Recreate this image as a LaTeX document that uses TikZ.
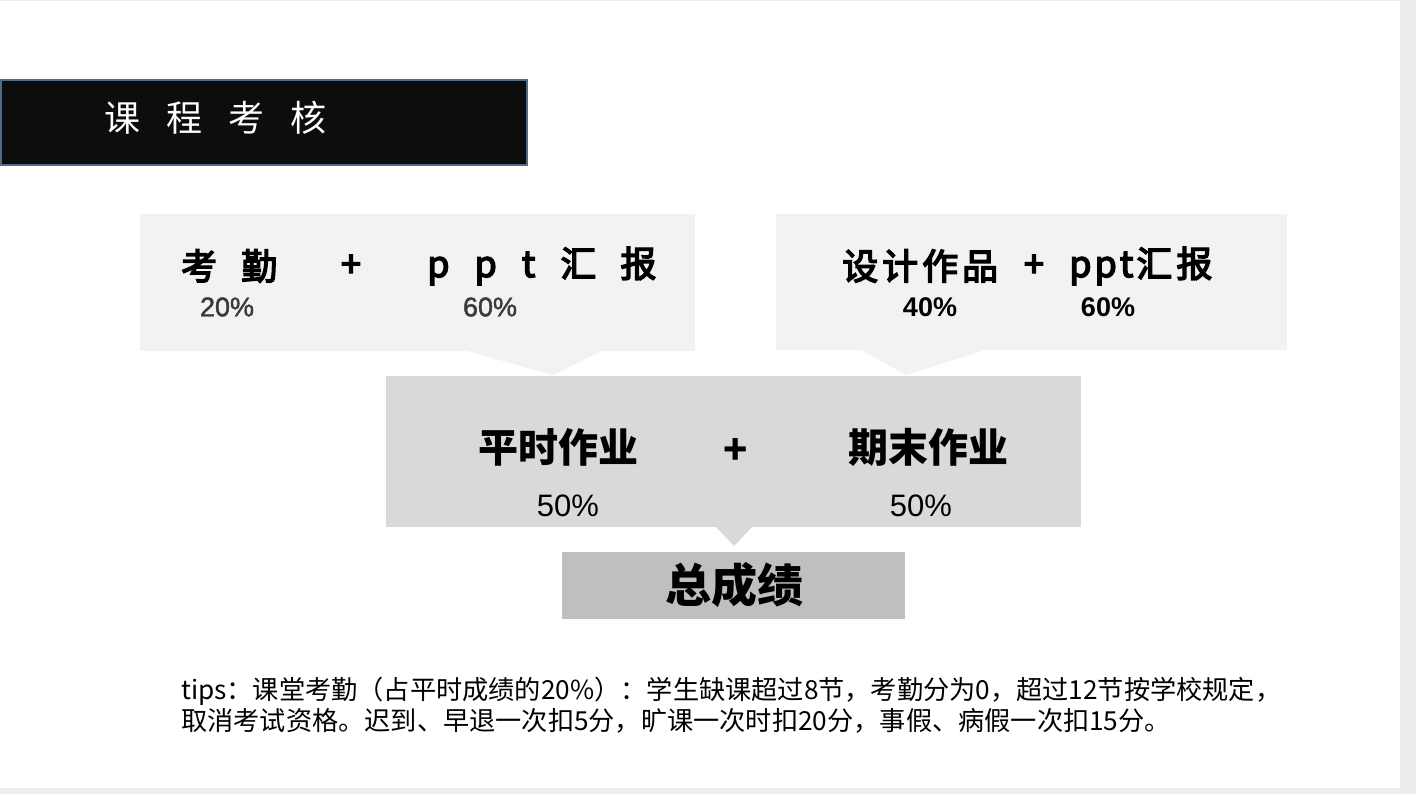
\documentclass[tikz,border=0pt]{standalone}
\usepackage{fontspec}
\setmainfont{Noto Sans CJK SC}
\newfontfamily\semib{Noto Sans CJK SC}[FakeBold=4]
\newfontfamily\lat{Liberation Sans}
\newfontfamily\latmed{Liberation Sans}[FakeBold=1.5]
\definecolor{outbg}{HTML}{EDEDF0}
\definecolor{titlebk}{HTML}{0D0D0D}
\definecolor{titleline}{HTML}{4F6C8C}
\definecolor{boxA}{HTML}{F2F2F2}
\definecolor{boxB}{HTML}{D9D9D9}
\definecolor{boxC}{HTML}{BFBFBF}
\definecolor{pctgray}{HTML}{3A3A3A}
\tikzset{
  panel/.style={rectangle, inner sep=0pt, anchor=north west},
  toptxt/.style={inner sep=0pt, font=\fontsize{36}{40}\selectfont\semib},
  midtxt/.style={inner sep=0pt, font=\fontsize{40}{44}\selectfont\bfseries},
  pctA/.style={inner sep=0pt, text=pctgray, font=\fontsize{27}{30}\selectfont\latmed},
  pctB/.style={inner sep=0pt, font=\fontsize{27}{30}\selectfont\lat\bfseries},
  pctC/.style={inner sep=0pt, font=\fontsize{31}{34}\selectfont\lat},
  tiptxt/.style={inner sep=0pt, anchor=west, font=\fontsize{26.2}{30}\selectfont},
}
\begin{document}
\begin{tikzpicture}[x=1pt,y=-1pt]
\useasboundingbox (0,0) rectangle (1416,794);
\fill[outbg] (0,0) rectangle (1416,794);
\fill[white] (0,1) rectangle (1400,788);

% title bar
\node[panel, fill=titlebk, draw=titleline, line width=2pt, minimum width=526pt, minimum height=85pt] (title) at (0,79) {};
\node[inner sep=0pt, anchor=west, text=white, font=\fontsize{36}{40}\selectfont] (titletxt) at (104,118) {课\hspace{26pt}程\hspace{26pt}考\hspace{26pt}核};

% top boxes
\node[panel, fill=boxA, minimum width=555pt, minimum height=137pt] (boxL) at (140,214) {};
\node[panel, fill=boxA, minimum width=511pt, minimum height=136pt] (boxR) at (776,214) {};
% middle box
\node[panel, fill=boxB, minimum width=695pt, minimum height=151pt] (boxM) at (386,376) {};
% total box
\node[panel, fill=boxC, minimum width=343pt, minimum height=67pt] (boxT) at (562,552) {};

% pointers
\coordinate (tipL) at (553,375);
\coordinate (tipR) at (906,375);
\coordinate (tipM) at (734,546);
\fill[boxA] (464,350) -- (tipL) -- (603,350) -- cycle;
\fill[boxA] (860,349) -- (tipR) -- (988,349) -- cycle;
\fill[boxB] (715,526) -- (tipM) -- (753,526) -- cycle;

% top-left texts
\node[toptxt, anchor=west] (kq) at (181,266) {考\hspace{24pt}勤};
\node[toptxt] (plusL) at (351,266) {+};
\node[toptxt, anchor=west] (pptL) at (427,266) {p\hspace{25pt}p\hspace{25pt}t\hspace{25pt}汇\hspace{24pt}报};
\node[pctA] (p20) at (227,307) {20\%};
\node[pctA] (p60a) at (490,307) {60\%};

% top-right texts
\node[toptxt, anchor=west] (sj) at (842,266) {设\hspace{4pt}计\hspace{4pt}作\hspace{4pt}品};
\node[toptxt] (plusR) at (1034,266) {+};
\node[toptxt, anchor=west] (pptR) at (1069,266) {p\hspace{3pt}p\hspace{3pt}t\hspace{3pt}汇\hspace{4pt}报};
\node[pctB] (p40) at (930,307) {40\%};
\node[pctB] (p60b) at (1108,307) {60\%};

% middle texts
\node[midtxt] (ps) at (558,447) {平时作业};
\node[midtxt] (plusM) at (736,451) {+};
\node[midtxt] (qm) at (928,447) {期末作业};
\node[pctC] (p50a) at (568,506) {50\%};
\node[pctC] (p50b) at (921,506) {50\%};

% total
\node[inner sep=0pt, font=\fontsize{46}{50}\selectfont\bfseries] (total) at (734,585) {总成绩};

% tips
\node[tiptxt] (tip1) at (181,691) {tips：课堂考勤（占平时成绩的20\%）：学生缺课超过8节，考勤分为0，超过12节按学校规定，};
\node[tiptxt] (tip2) at (181,721) {取消考试资格。迟到、早退一次扣5分，旷课一次时扣20分，事假、病假一次扣15分。};
\end{tikzpicture}
\end{document}
